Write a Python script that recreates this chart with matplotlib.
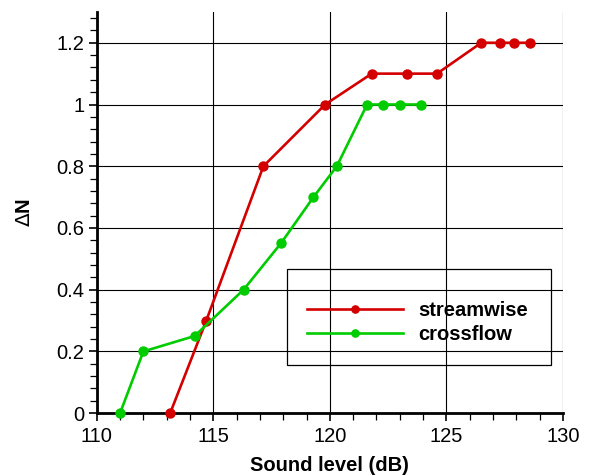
import matplotlib
import matplotlib.pyplot as plt
import numpy as np
from matplotlib.patches import Rectangle
from matplotlib.ticker import MultipleLocator

plt.rcParams['font.family'] = ['Liberation Sans', 'DejaVu Sans']
plt.rcParams['xtick.labelsize'] = 14.5
plt.rcParams['ytick.labelsize'] = 14.5

# ----------------------------------------------- #
# -------------------- Data --------------------- #
# ----------------------------------------------- #
stream_x = [113.15, 114.7, 117.15, 119.8, 121.8, 123.3, 124.6, 126.5, 127.3, 127.9, 128.6]
stream_y = [0.0, 0.3, 0.8, 1.0, 1.1, 1.1, 1.1, 1.2, 1.2, 1.2, 1.2]

cross_x = [111.0, 112.0, 114.2, 116.3, 117.9, 119.3, 120.3, 121.6, 122.3, 123.0, 123.9]
cross_y = [0.0, 0.2, 0.25, 0.4, 0.55, 0.7, 0.8, 1.0, 1.0, 1.0, 1.0]

xticks = [110, 115, 120, 125, 130]
yticks = [0, 0.2, 0.4, 0.6, 0.8, 1.0, 1.2]
ytick_labels = ['0', '0.2', '0.4', '0.6', '0.8', '1', '1.2']

# ----------------------------------------------- #
# -------------- FIGURE PLOT -------------------- #
# ----------------------------------------------- #
figure = plt.figure(figsize=(5.9, 4.76), dpi=100)
ax = figure.add_axes([0.164, 0.132, 0.79, 0.843])

ax.grid(True, color='black', linewidth=0.8, zorder=0)
ax.set_axisbelow(True)

p1 = ax.plot(stream_x, stream_y, marker='o', ms=6.5, linewidth=1.9,
             color='#d40000', label='streamwise', zorder=3, clip_on=False)
p2 = ax.plot(cross_x, cross_y, marker='o', ms=6.5, linewidth=1.9,
             color='#00cc00', label='crossflow', zorder=3, clip_on=False)

ax.set_xlim(110, 130)
ax.set_ylim(0, 1.3)
ax.set_xticks(xticks)
ax.set_yticks(yticks)
ax.set_yticklabels(ytick_labels)
ax.xaxis.set_minor_locator(MultipleLocator(1))
ax.yaxis.set_minor_locator(MultipleLocator(0.04))
ax.tick_params(which='major', direction='out', length=6, width=1.2, pad=3)
ax.tick_params(axis='x', which='major', pad=4)
ax.tick_params(which='minor', direction='out', length=5, width=0.9)

ax.spines['top'].set_visible(False)
ax.spines['right'].set_visible(False)
ax.spines['left'].set_linewidth(2)
ax.spines['bottom'].set_linewidth(2)

ax.set_xlabel('Sound level (dB)', fontsize=14.5, fontweight='bold', labelpad=7)
ax.set_ylabel(r'$\Delta$N', fontsize=14.5, fontweight='bold', labelpad=16)

# legend box drawn larger than its entries
ax.add_patch(Rectangle((0.408, 0.12), 0.566, 0.239, transform=ax.transAxes,
                       fill=False, edgecolor='black', linewidth=0.9, zorder=4))
ax.legend(loc='center left', bbox_to_anchor=(0.429, 0.227),
          frameon=False, borderpad=0, numpoints=1, markerscale=0.8,
          handlelength=4.8, handletextpad=0.75, labelspacing=0.25,
          prop=dict(size=14.5, weight='bold'))

plt.savefig('out.png', dpi=100)
